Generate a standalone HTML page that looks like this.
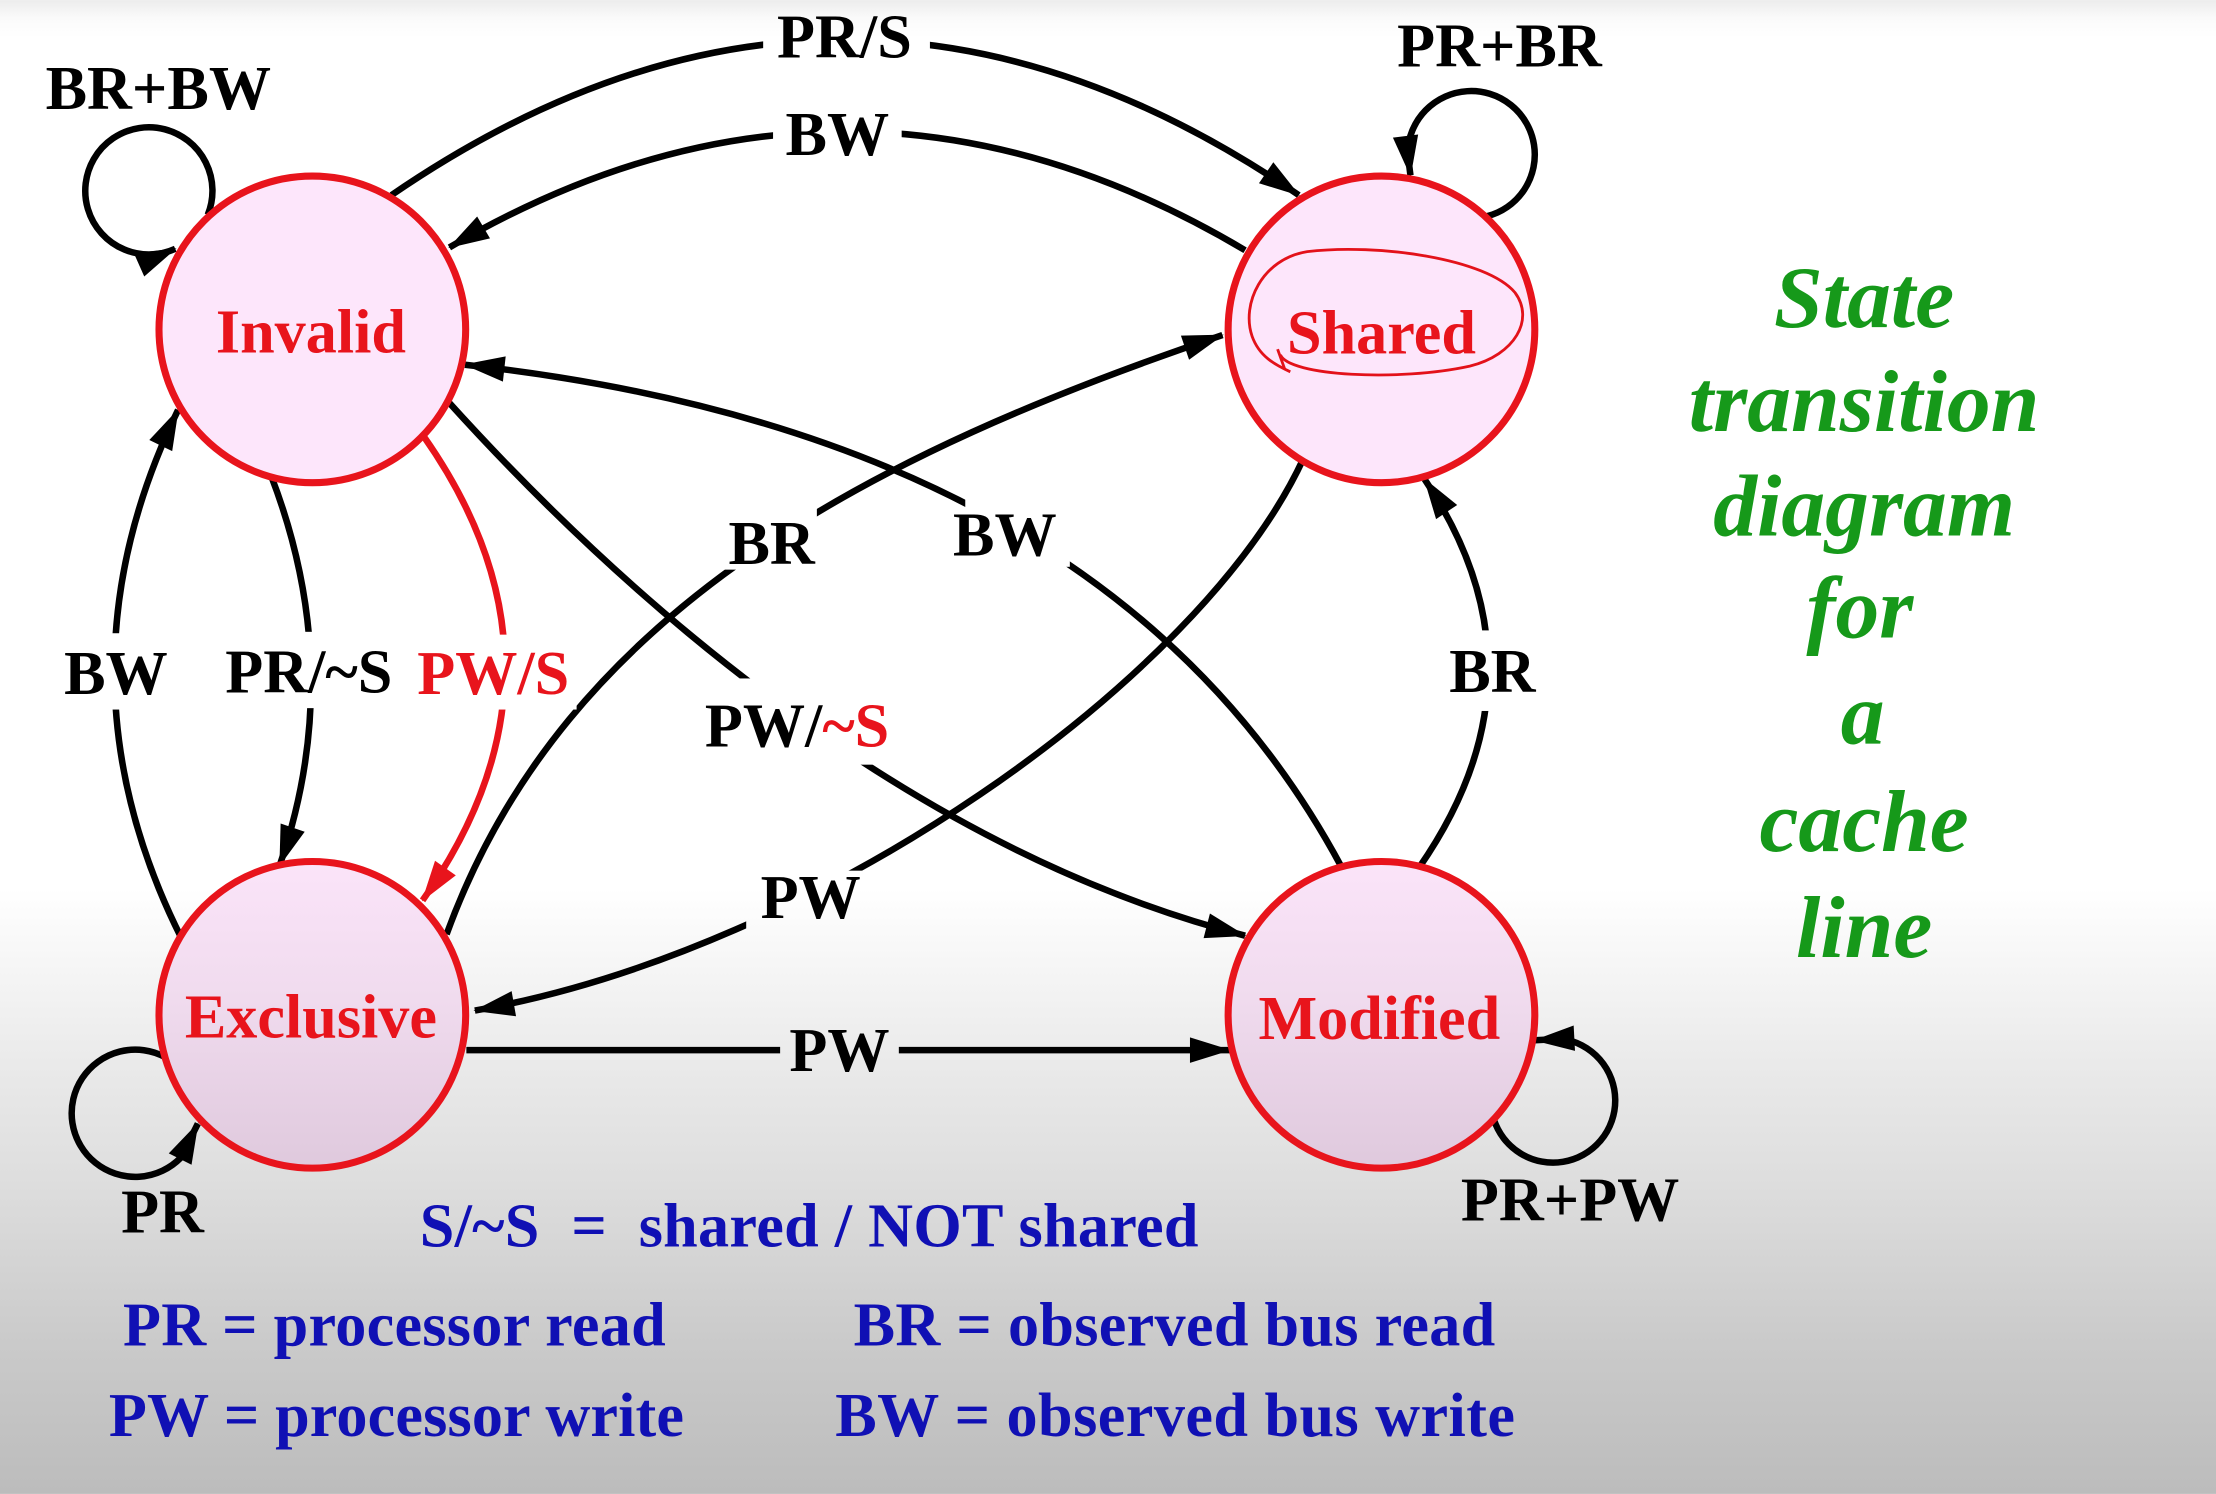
<!DOCTYPE html>
<html>
<head>
<meta charset="utf-8">
<style>
html,body{margin:0;padding:0;overflow:hidden;background:#fff}
svg{display:block}
.lbl{font-family:"Liberation Serif","Times New Roman",serif;font-weight:bold;font-size:44px;fill:#000;text-anchor:middle}
.red{fill:#e8141c}
.node{font-family:"Liberation Serif","Times New Roman",serif;font-weight:bold;font-size:44px;fill:#e8141c;text-anchor:middle}
.grn{font-family:"Liberation Serif","Times New Roman",serif;font-weight:bold;font-style:italic;font-size:62px;fill:#16991a;text-anchor:middle}
.blu{font-family:"Liberation Serif","Times New Roman",serif;font-weight:bold;font-size:44px;fill:#1010b4;white-space:pre}
</style>
</head>
<body>
<svg width="2216" height="1494" viewBox="0 0 1568 1057">
<defs>
  <linearGradient id="bg" x1="0" y1="0" x2="0" y2="1057" gradientUnits="userSpaceOnUse">
    <stop offset="0" stop-color="#ececec"/>
    <stop offset="0.012" stop-color="#fafafa"/>
    <stop offset="0.025" stop-color="#ffffff"/>
    <stop offset="0.595" stop-color="#ffffff"/>
    <stop offset="0.70" stop-color="#ececec"/>
    <stop offset="0.80" stop-color="#dcdcdc"/>
    <stop offset="0.90" stop-color="#cacaca"/>
    <stop offset="1" stop-color="#bcbcbc"/>
  </linearGradient>
  <linearGradient id="nodeLow" x1="0" y1="0" x2="0" y2="1">
    <stop offset="0" stop-color="#fbe4f9"/>
    <stop offset="0.45" stop-color="#f0dbee"/>
    <stop offset="1" stop-color="#dfc9dd"/>
  </linearGradient>
  <marker id="ah" markerUnits="userSpaceOnUse" markerWidth="32" markerHeight="22" refX="28" refY="9" orient="auto" style="overflow:visible">
    <path d="M0,0 L29,9 L0,18 Z" fill="#000"/>
  </marker>
  <marker id="ahr" markerUnits="userSpaceOnUse" markerWidth="32" markerHeight="22" refX="28" refY="9" orient="auto" style="overflow:visible">
    <path d="M0,0 L29,9 L0,18 Z" fill="#e8141c"/>
  </marker>
  <mask id="gaps" maskUnits="userSpaceOnUse" x="0" y="0" width="1568" height="1057">
    <rect x="0" y="0" width="1568" height="1057" fill="#fff"/>
    <rect x="540" y="8" width="118" height="38" fill="#000"/>
    <rect x="547" y="78" width="91" height="36" fill="#000"/>
    <rect x="505" y="354" width="73" height="49" fill="#000"/>
    <rect x="683" y="347" width="74" height="54" fill="#000"/>
    <rect x="495" y="480" width="138" height="61" fill="#000"/>
    <rect x="528" y="616" width="94" height="42" fill="#000"/>
    <rect x="552" y="725" width="84" height="40" fill="#000"/>
    <rect x="1022" y="446" width="70" height="57" fill="#000"/>
    <rect x="42" y="448" width="80" height="54" fill="#000"/>
    <rect x="155" y="447" width="128" height="54" fill="#000"/>
    <rect x="292" y="449" width="116" height="53" fill="#000"/>
  </mask>
</defs>

<rect x="0" y="0" width="1568" height="1057" fill="url(#bg)"/>

<!-- edges -->
<g mask="url(#gaps)" fill="none" stroke="#000" stroke-width="4.6">
  <!-- self loops -->
  <path d="M147,152 A45,45 0 1 0 106,180 Q115,180 124,176" marker-end="url(#ah)"/>
  <path d="M1052,153 A45,45 0 1 0 996,108 L998,124" marker-end="url(#ah)"/>
  <path d="M117,748 A45,45 0 1 0 128,819 L140,795" marker-end="url(#ah)"/>
  <path d="M1057,792 A44,44 0 1 0 1105,735 L1086,736" marker-end="url(#ah)"/>
  <!-- top arcs -->
  <path d="M277,138 Q598,-82 919,138" marker-end="url(#ah)"/>
  <path d="M881,177 Q600,10 318,175" marker-end="url(#ah)"/>
  <!-- cross lines -->
  <path d="M949,613 Q785,308 329,258" marker-end="url(#ah)"/>
  <path d="M316,661 C400,430 620,320 865,237" marker-end="url(#ah)"/>
  <path d="M317,284 C440,420 640,600 881,662" marker-end="url(#ah)"/>
  <path d="M922,325 C850,480 580,672 336,715" marker-end="url(#ah)"/>
  <!-- horizontal -->
  <path d="M330,743 L870,743" marker-end="url(#ah)"/>
  <!-- right BR -->
  <path d="M1004,614 Q1100,476 1008,339" marker-end="url(#ah)"/>
  <!-- left arcs -->
  <path d="M128,663 Q35,477 126,290" marker-end="url(#ah)"/>
  <path d="M192,337 Q245,475 198,612" marker-end="url(#ah)"/>
  <path d="M300,309 Q415,473 299,637" stroke="#e8141c" marker-end="url(#ahr)"/>
</g>

<!-- nodes -->
<circle cx="221" cy="233" r="108.5" fill="#fde6fb" stroke="#e8141c" stroke-width="5"/>
<circle cx="977.5" cy="233" r="108.5" fill="#fde6fb" stroke="#e8141c" stroke-width="5"/>
<circle cx="221" cy="718" r="108.5" fill="url(#nodeLow)" stroke="#e8141c" stroke-width="5"/>
<circle cx="977.5" cy="718" r="108.5" fill="url(#nodeLow)" stroke="#e8141c" stroke-width="5"/>

<text class="node" x="220" y="249.5">Invalid</text>
<text class="node" x="977.5" y="250">Shared</text>
<text class="node" x="220" y="734">Exclusive</text>
<text class="node" x="976" y="735">Modified</text>

<!-- hand-drawn annotation around Shared -->
<path d="M906,251 C912,266 990,270 1040,259 C1072,251 1086,226 1072,207 C1052,183 975,172 925,178 C893,183 878,215 886,238 C891,252 902,258 913,263" fill="none" stroke="#e3121a" stroke-width="2"/>
<path d="M904,247 L909,261" fill="none" stroke="#e3121a" stroke-width="2"/>

<!-- edge labels -->
<text class="lbl" x="112" y="77">BR+BW</text>
<text class="lbl" x="597.5" y="40.5">PR/S</text>
<text class="lbl" x="592.5" y="109.5">BW</text>
<text class="lbl" x="1061" y="47">PR+BR</text>
<text class="lbl" x="546" y="399">BR</text>
<text class="lbl" x="711" y="393">BW</text>
<text class="lbl" x="564" y="528">PW/<tspan class="red">~S</tspan></text>
<text class="lbl" x="82" y="491">BW</text>
<text class="lbl" x="218.5" y="490">PR/~S</text>
<text class="lbl red" x="349" y="491">PW/S</text>
<text class="lbl" x="573.6" y="649.5">PW</text>
<text class="lbl" x="594" y="757.8">PW</text>
<text class="lbl" x="1056" y="489.7">BR</text>
<text class="lbl" x="115" y="872">PR</text>
<text class="lbl" x="1111" y="863.5">PR+PW</text>

<!-- title -->
<text class="grn" x="1319" y="231.5">State</text>
<text class="grn" x="1319" y="305">transition</text>
<text class="grn" x="1319" y="379">diagram</text>
<text class="grn" x="1316" y="451">for</text>
<text class="grn" x="1318" y="526">a</text>
<text class="grn" x="1319" y="602">cache</text>
<text class="grn" x="1319" y="677">line</text>

<!-- legend -->
<text class="blu" x="297" y="882" textLength="551" lengthAdjust="spacing">S/~S  =  shared / NOT shared</text>
<text class="blu" x="87" y="952" textLength="384" lengthAdjust="spacing">PR = processor read</text>
<text class="blu" x="604" y="952" textLength="454" lengthAdjust="spacing">BR = observed bus read</text>
<text class="blu" x="77" y="1016" textLength="407" lengthAdjust="spacing">PW = processor write</text>
<text class="blu" x="591" y="1016" textLength="481" lengthAdjust="spacing">BW = observed bus write</text>
</svg>
</body>
</html>
